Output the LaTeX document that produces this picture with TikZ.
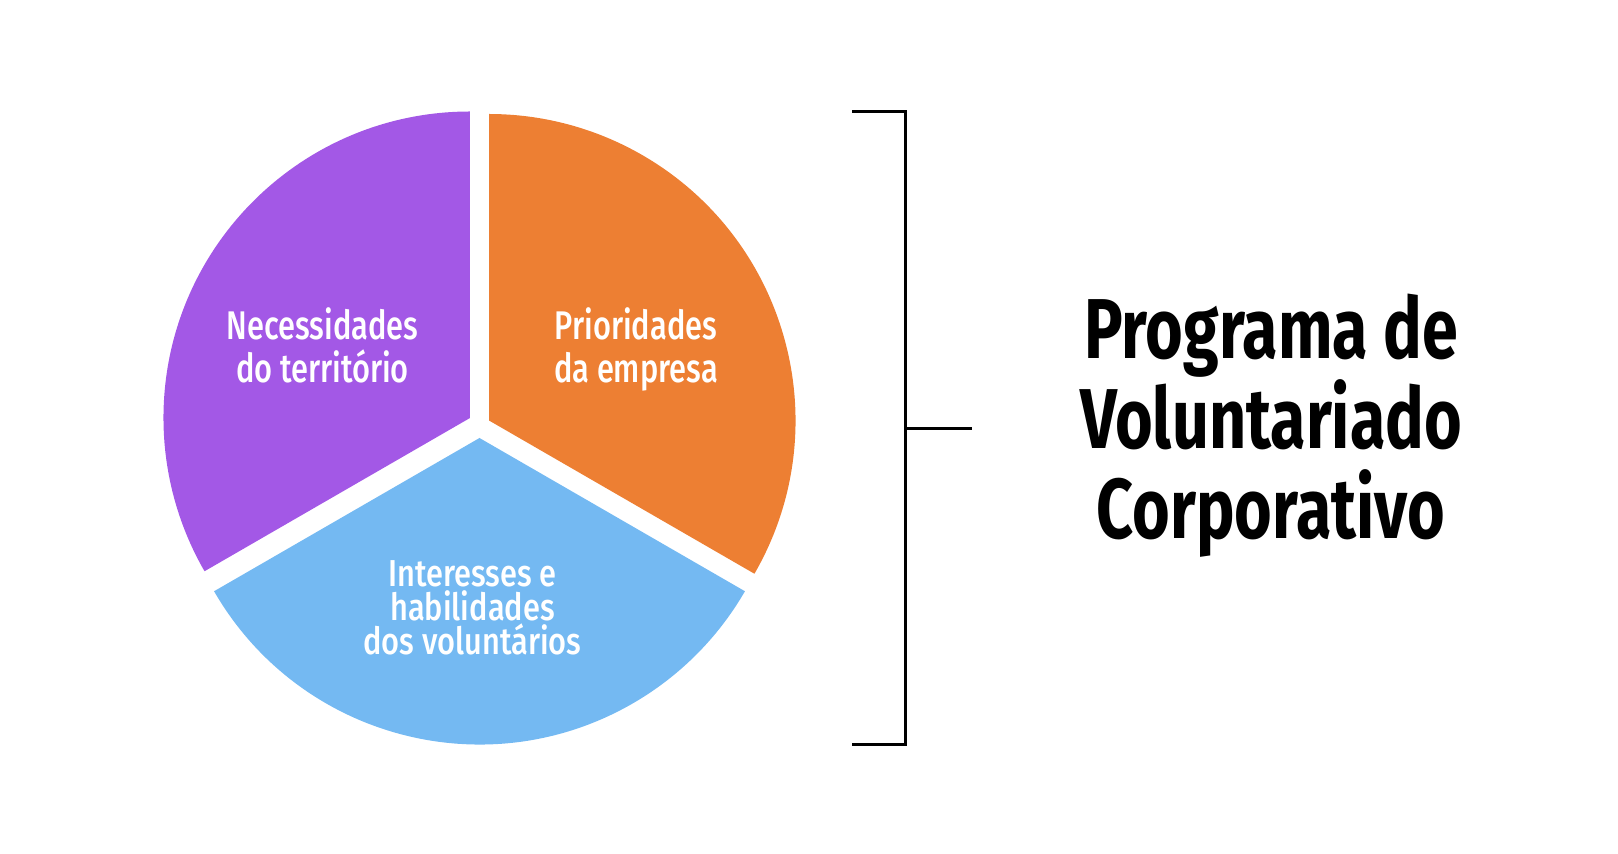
\documentclass[tikz,border=0pt]{standalone}
\usepackage{fontspec}
\usetikzlibrary{calc}
\newfontfamily\labfont[FakeStretch=0.77]{Fira Sans Medium}
\newfontfamily\labfontb[FakeStretch=0.82]{Fira Sans Medium}
\newfontfamily\titlefont[FakeStretch=0.76]{Fira Sans}
\definecolor{purp}{RGB}{163,88,230}
\definecolor{orng}{RGB}{237,127,51}
\definecolor{blu}{RGB}{116,185,242}
\tikzset{
  lab/.style={text=white,anchor=base,inner sep=0pt,align=center,font=\labfont\fontsize{40}{43}\selectfont},
  ttl/.style={text=black,anchor=base,inner sep=0pt,align=center,font=\titlefont\bfseries\fontsize{85}{90}\selectfont},
  brk/.style={line width=3pt,black}
}
\begin{document}
\begin{tikzpicture}[x=1pt,y=1pt]
\useasboundingbox (0,0) rectangle (1618,854);
\coordinate (C) at (479.5,430.5);
\def\R{306.5}
\fill[purp] ($(C)+(150:11)$) -- ++(90:\R) arc[start angle=90,end angle=210,radius=\R] -- cycle;
\fill[orng] ($(C)+(9.5,3)$) -- ++(-30:\R) arc[start angle=-30,end angle=90,radius=\R] -- cycle;
\fill[blu] ($(C)+(270:14.5)$) -- ++(210:\R) arc[start angle=210,end angle=330,radius=\R] -- cycle;

\node[lab] (p) at (322.5,471) {Necessidades\\do território};
\node[lab] (o) at (636,471) {Prioridades\\da empresa};
\node[lab,font=\labfontb\fontsize{37.5}{34}\selectfont] (b) at (472.5,199) {Interesses e\\habilidades\\dos voluntários};

\node[ttl] (t) at (1271,315) {Programa de\\Voluntariado\\Corporativo};

\coordinate (tl) at (852,742);
\coordinate (tr) at (905,742);
\coordinate (br) at (905,109);
\coordinate (bl) at (852,109);
\coordinate (mid) at (905,425);
\coordinate (tick) at (972,425);
\draw[brk] (tl) -- (tr) -- (br) -- (bl);
\draw[brk] (mid) -- (tick);
\end{tikzpicture}
\end{document}
